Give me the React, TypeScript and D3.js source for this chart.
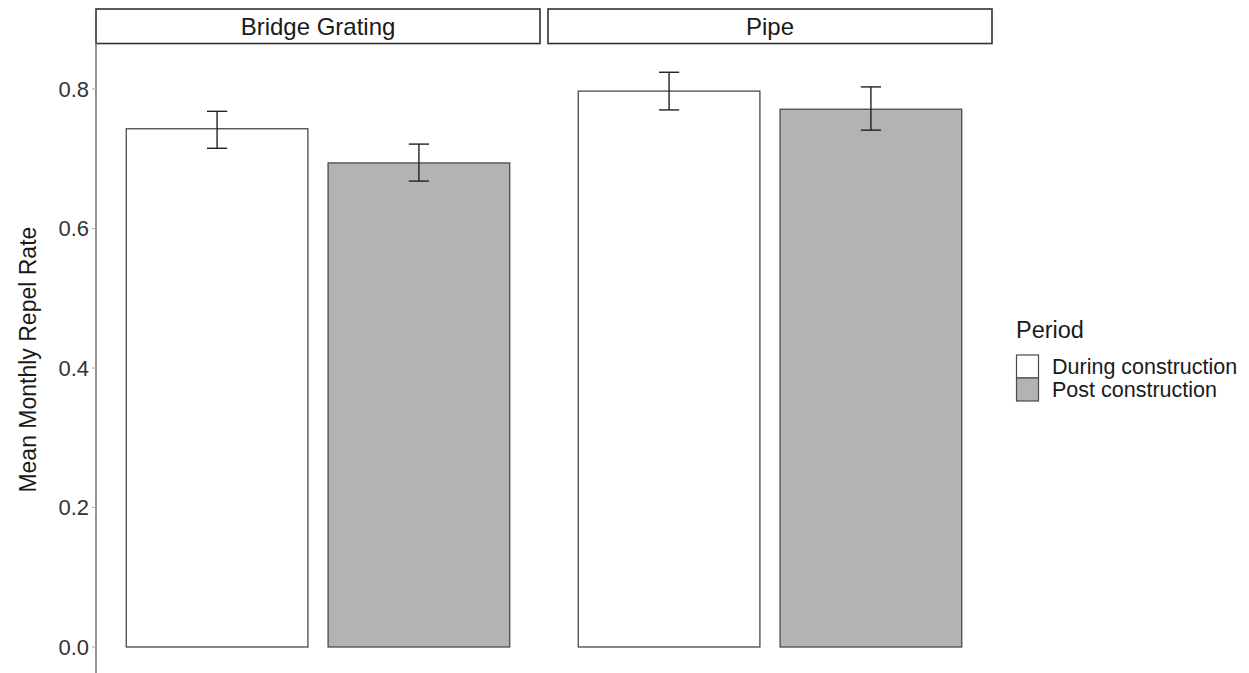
import { useRef, useEffect } from "react"
import * as d3 from "d3"

// facets and groups
const facets = ["Bridge Grating", "Pipe"]
const periods = ["During construction", "Post construction"]
const periodFill = ["#ffffff", "#b3b3b3"]

// mean monthly repel rate per facet, one value per period
const meanBridge = [0.743, 0.694]
const meanPipe = [0.797, 0.771]
// error bar bounds
const lowerBridge = [0.715, 0.668]
const upperBridge = [0.768, 0.721]
const lowerPipe = [0.77, 0.741]
const upperPipe = [0.824, 0.803]

const yTicks = [0, 0.2, 0.4, 0.6, 0.8]

const W = 1249
const H = 673
const FONT = "'Liberation Sans', Arial, Helvetica, sans-serif"

const App = () => {
  const svgRef = useRef<SVGSVGElement>(null)

  useEffect(() => {
    const root = d3.select(svgRef.current)
    root.selectAll("*").remove()

    const rows = [
      { facet: facets[0], mean: meanBridge, lo: lowerBridge, hi: upperBridge },
      { facet: facets[1], mean: meanPipe, lo: lowerPipe, hi: upperPipe },
    ]

    // y scale: 0 at 647px, 0.8 at 89px
    const y = d3.scaleLinear().domain([0, 0.8]).range([647, 89])
    const yMax = d3.max(rows, (r) => d3.max(r.hi)) as number
    const panelTop = y(yMax * 1.05)
    const panelBottom = y(-yMax * 0.05)

    const fx = d3.scaleBand().domain(facets).range([96, 992]).paddingInner(8 / 452).paddingOuter(0)
    const x = d3.scaleBand().domain(periods).range([0, fx.bandwidth()]).paddingInner(0.1).paddingOuter(0.15)

    const stripTop = 9

    rows.forEach((r) => {
      const g = root.append("g").attr("transform", `translate(${fx(r.facet)},0)`)

      // strip
      g.append("rect")
        .attr("x", 0)
        .attr("y", stripTop)
        .attr("width", fx.bandwidth())
        .attr("height", panelTop - stripTop)
        .attr("fill", "white")
        .attr("stroke", "#333")
        .attr("stroke-width", 1.6)
      g.append("text")
        .attr("x", fx.bandwidth() / 2)
        .attr("y", (stripTop + panelTop) / 2 + 8.5)
        .attr("text-anchor", "middle")
        .attr("font-size", 24)
        .attr("fill", "#1a1a1a")
        .text(r.facet)

      // bars
      periods.forEach((p, i) => {
        g.append("rect")
          .attr("x", x(p)!)
          .attr("y", y(r.mean[i]))
          .attr("width", x.bandwidth())
          .attr("height", y(0) - y(r.mean[i]))
          .attr("fill", periodFill[i])
          .attr("stroke", "#4a4a4a")
          .attr("stroke-width", 1.3)
      })

      // error bars
      periods.forEach((p, i) => {
        const cx = x(p)! + x.bandwidth() / 2
        const hw = x.step() * 0.05
        const eb = g.append("g").attr("stroke", "#222").attr("stroke-width", 1.4)
        eb.append("line").attr("x1", cx).attr("x2", cx).attr("y1", y(r.hi[i])).attr("y2", y(r.lo[i]))
        eb.append("line").attr("x1", cx - hw).attr("x2", cx + hw).attr("y1", y(r.hi[i])).attr("y2", y(r.hi[i]))
        eb.append("line").attr("x1", cx - hw).attr("x2", cx + hw).attr("y1", y(r.lo[i])).attr("y2", y(r.lo[i]))
      })

      // x axis line (mostly off the bottom)
      g.append("line")
        .attr("x1", 0)
        .attr("x2", fx.bandwidth())
        .attr("y1", panelBottom)
        .attr("y2", panelBottom)
        .attr("stroke", "#777")
        .attr("stroke-width", 1.5)
    })

    // y axis
    const axis = root.append("g").attr("transform", `translate(${fx(facets[0])},0)`)
    axis.append("line")
      .attr("x1", 0)
      .attr("x2", 0)
      .attr("y1", panelTop)
      .attr("y2", panelBottom)
      .attr("stroke", "#888")
      .attr("stroke-width", 1.8)
    yTicks.forEach((t) => {
      axis.append("line")
        .attr("x1", -4)
        .attr("x2", 0)
        .attr("y1", y(t))
        .attr("y2", y(t))
        .attr("stroke", "#aaa")
        .attr("stroke-width", 1)
      axis.append("text")
        .attr("x", -7)
        .attr("y", y(t) + 7.5)
        .attr("text-anchor", "end")
        .attr("font-size", 22)
        .attr("fill", "#333")
        .text(d3.format(".1f")(t))
    })

    // y title
    root.append("text")
      .attr("transform", `translate(36,${(panelTop + panelBottom) / 2}) rotate(-90)`)
      .attr("text-anchor", "middle")
      .attr("font-size", 23)
      .attr("fill", "#1a1a1a")
      .text("Mean Monthly Repel Rate")

    // legend
    const leg = root.append("g").attr("transform", "translate(1016,0)")
    leg.append("text").attr("x", 0).attr("y", 338).attr("font-size", 23.5).attr("fill", "#1a1a1a").text("Period")
    periods.forEach((p, i) => {
      leg.append("rect")
        .attr("x", 0.5)
        .attr("y", 355 + i * 23)
        .attr("width", 22)
        .attr("height", 23)
        .attr("fill", periodFill[i])
        .attr("stroke", "#4a4a4a")
        .attr("stroke-width", 1.2)
      leg.append("text")
        .attr("x", 36)
        .attr("y", 374 + i * 23)
        .attr("font-size", 21.5)
        .attr("fill", "#1a1a1a")
        .text(p)
    })
  }, [])

  return (
    <svg
      ref={svgRef}
      width={W}
      height={H}
      style={{ position: "absolute", left: 0, top: 0, background: "white", fontFamily: FONT }}
    />
  )
}

export default App
